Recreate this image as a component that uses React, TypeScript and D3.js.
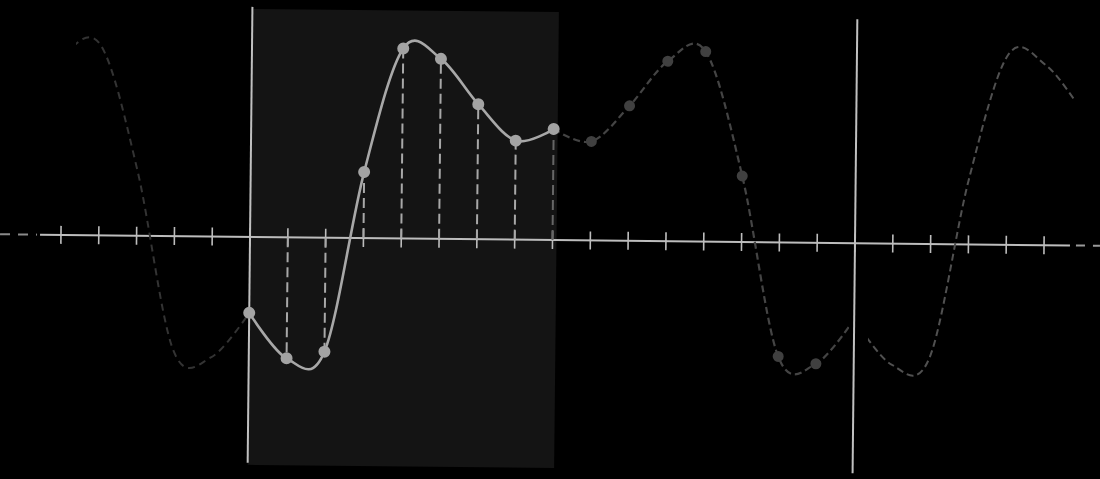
import React from "react";
import * as d3 from "d3";

// 16 samples of one period (units of the vertical axis)
const sampleIndex = [0, 1, 2, 3, 4, 5, 6, 7, 8, 9, 10, 11, 12, 13, 14, 15];
const sampleValues = [-0.76, -1.21, -1.14, 0.66, 1.9, 1.8, 1.35, 0.99, 1.11, 0.99, 1.35, 1.8, 1.9, 0.66, -1.14, -1.21];
const knownCount = 9; // samples 0..8 are the highlighted window
const tickIndex = d3.range(-5, 22);

const W = 1100;
const H = 479;

export default function App() {
  const x = d3.scaleLinear().domain([0, 16]).range([250, 855]);
  const y = d3.scaleLinear().domain([-1, 1]).range([340, 140]);
  const y0 = y(0);
  const period = sampleIndex.length;
  const val = (k: number) => sampleValues[((k % period) + period) % period];
  const pts = (a: number, b: number) => d3.range(a, b + 1).map((k) => [k, val(k)] as [number, number]);
  const line = d3
    .line<[number, number]>()
    .x((d) => x(d[0]))
    .y((d) => y(d[1]))
    .curve(d3.curveCardinal.tension(0));

  const known = pts(0, knownCount - 1);
  const rest = pts(knownCount - 1, period);
  const left = pts(-6, 0);
  const right = pts(period, period + 7);

  return (
    <svg width={W} height={H} style={{ position: "absolute", left: 0, top: 0, background: "#000" }}>
      <defs>
        <clipPath id="cl">
          <rect x={74} y={0} width={250 - 74} height={H} />
        </clipPath>
        <clipPath id="cm">
          <rect x={550} y={0} width={850 - 550} height={H} />
        </clipPath>
        <clipPath id="cr">
          <rect x={869} y={0} width={1073 - 869} height={H} />
        </clipPath>
      </defs>
      <rect x={0} y={0} width={W} height={H} fill="#000" />
      <g transform="rotate(0.6, 550, 240)">
        <rect x={x(0)} y={12} width={x(knownCount - 1) + 4 - x(0)} height={456} fill="#141414" />
        {/* axis */}
        <line x1={40} x2={1070} y1={y0} y2={y0} stroke="#bdbdbd" strokeWidth={2} />
        <line x1={0} x2={37} y1={y0} y2={y0} stroke="#8a8a8a" strokeWidth={2} strokeDasharray="10 8" />
        <line x1={1076} x2={1100} y1={y0} y2={y0} stroke="#9a9a9a" strokeWidth={2} strokeDasharray="9 8" />
        {tickIndex.map((k) => (
          <line key={k} x1={x(k)} x2={x(k)} y1={y0 - 9} y2={y0 + 9} stroke="#bdbdbd" strokeWidth={1.6} />
        ))}
        {/* period boundaries */}
        <line x1={x(0)} x2={x(0)} y1={10} y2={466} stroke="#c0c0c0" strokeWidth={2} />
        <line x1={x(16)} x2={x(16)} y1={16} y2={470} stroke="#c0c0c0" strokeWidth={2} />
        {/* faint periodic copies */}
        <path d={line(left) || ""} fill="none" stroke="#333" strokeWidth={2} strokeDasharray="7 5" clipPath="url(#cl)" />
        <path d={line(rest) || ""} fill="none" stroke="#444" strokeWidth={2.2} strokeDasharray="7 4" clipPath="url(#cm)" />
        <path d={line(right) || ""} fill="none" stroke="#505050" strokeWidth={2} strokeDasharray="7 4" clipPath="url(#cr)" />
        {rest.slice(1, -1).map((d) => (
          <circle key={d[0]} cx={x(d[0])} cy={y(d[1])} r={5.5} fill="#404040" />
        ))}
        {/* stems */}
        {known.slice(1).map((d) => (
          <line
            key={d[0]}
            x1={x(d[0])}
            x2={x(d[0])}
            y1={y0}
            y2={y(d[1])}
            stroke={d[0] === knownCount - 1 ? "#666" : "#a8a8a8"}
            strokeWidth={2}
            strokeDasharray="10 5"
          />
        ))}
        <path d={line(known) || ""} fill="none" stroke="#a8a8a8" strokeWidth={2.6} />
        {known.map((d) => (
          <circle key={d[0]} cx={x(d[0])} cy={y(d[1])} r={6} fill="#a3a3a3" />
        ))}
      </g>
    </svg>
  );
}
